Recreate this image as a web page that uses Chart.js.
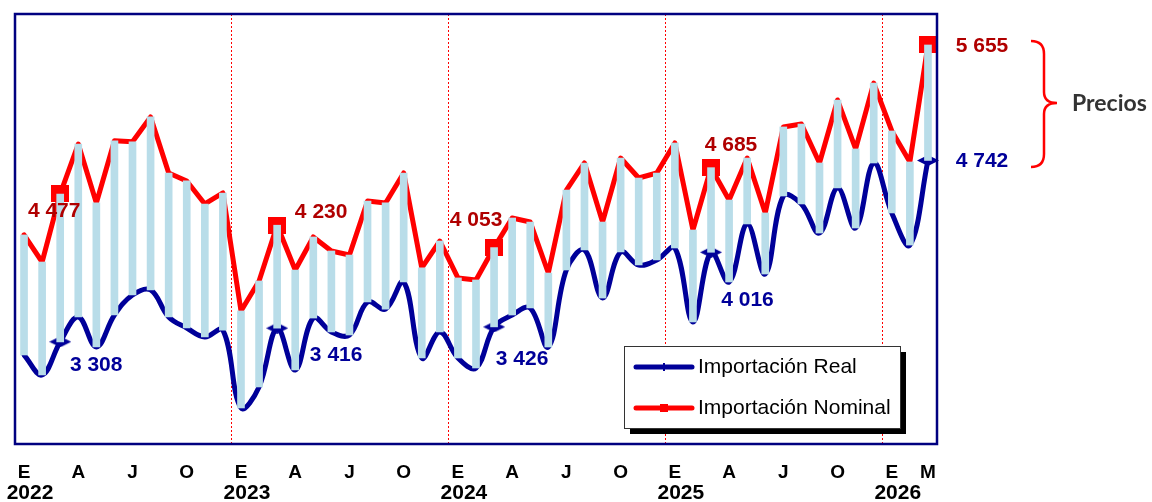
<!DOCTYPE html>
<html>
<head>
<meta charset="utf-8">
<script src="https://cdn.jsdelivr.net/npm/chart.js@4/dist/chart.umd.min.js"></script>
<style>
  html, body { margin: 0; padding: 0; background: #ffffff; }
  #wrap { width: 1152px; height: 502px; position: relative; }
</style>
</head>
<body>
<div id="wrap"><canvas id="c" width="1152" height="502"></canvas></div>
<script>
// ---- Data ----
const tickLabels = [
  'E','','','A','','','J','','','O','','',
  'E','','','A','','','J','','','O','','',
  'E','','','A','','','J','','','O','','',
  'E','','','A','','','J','','','O','','',
  'E','','M'
];
const yearLabels = ['2022','2023','2024','2025','2026'];

const importNominal = [
  4153, 3939, 4477, 4872, 4406, 4898, 4890, 5086, 4643, 4580, 4398, 4485,
  3552, 3789, 4230, 3876, 4137, 4026, 3994, 4421, 4406, 4643, 3892, 4105,
  3813, 3797, 4053, 4287, 4255, 3852, 4508, 4722, 4255, 4761, 4603, 4643,
  4880, 4192, 4685, 4429, 4761, 4327, 5007, 5030, 4722, 5220, 4833, 5354,
  4975, 4730, 5655
];
const importReal = [
  3204, 3046, 3308, 3504, 3267, 3520, 3678, 3718, 3504, 3417, 3346, 3401,
  2785, 2951, 3416, 3085, 3496, 3386, 3362, 3623, 3567, 3781, 3180, 3386,
  3180, 3101, 3426, 3520, 3575, 3267, 3876, 4034, 3654, 4018, 3915, 3955,
  4050, 3465, 4016, 3781, 4240, 3844, 4461, 4398, 4168, 4524, 4208, 4722,
  4327, 4073, 4742
];
const markedIndexes = [2, 14, 26, 38, 50];

// ---- Styling / layout (not data) ----
const NAVY = '#000099';
const RED = '#FF0000';
const DARKRED = '#B00000';
const BARBLUE = '#B9DDE9';

// label offsets relative to the marked points (pixels)
const nominalLabelOffsets = [[-6, 17], [44, -13], [-18, -27], [20, -22], [54, 1]];
const realLabelOffsets   = [[36, 23], [59, 27], [28, 32], [36.5, 48], [54, 1]];

function fmt(v) {
  const s = String(Math.round(v));
  return s.replace(/\B(?=(\d{3})+(?!\d))/g, ' ');
}

// custom marker images
function makeCanvas(w, h, draw) {
  const c = document.createElement('canvas');
  c.width = w; c.height = h;
  draw(c.getContext('2d'), w, h);
  return c;
}
const redSquare = makeCanvas(18, 17, (g, w, h) => { g.fillStyle = RED; g.fillRect(0, 0, w, h); });
const blueDiamond = makeCanvas(22, 11, (g, w, h) => {
  g.fillStyle = NAVY; g.beginPath();
  g.moveTo(0, h / 2); g.lineTo(w / 2, 0); g.lineTo(w, h / 2); g.lineTo(w / 2, h); g.closePath(); g.fill();
});

const barData = importReal.map((r, i) => [r, importNominal[i]]);

const framePlugin = {
  id: 'frame',
  afterDatasetsDraw(chart) {
    const { ctx, chartArea: a } = chart;
    ctx.save();
    ctx.strokeStyle = '#000080';
    ctx.lineWidth = 2.5;
    ctx.strokeRect(a.left, a.top, a.right - a.left, a.bottom - a.top);
    ctx.restore();
  }
};

const valueLabelPlugin = {
  id: 'valueLabels',
  afterDatasetsDraw(chart) {
    const { ctx } = chart;
    const metaNom = chart.getDatasetMeta(1);
    const metaReal = chart.getDatasetMeta(0);
    ctx.save();
    ctx.font = 'bold 21px "Liberation Sans", Arial, sans-serif';
    ctx.textAlign = 'center';
    ctx.textBaseline = 'middle';
    markedIndexes.forEach((idx, k) => {
      const pn = metaNom.data[idx];
      ctx.fillStyle = DARKRED;
      ctx.fillText(fmt(importNominal[idx]), pn.x + nominalLabelOffsets[k][0], pn.y + nominalLabelOffsets[k][1]);
      const pr = metaReal.data[idx];
      ctx.fillStyle = NAVY;
      ctx.fillText(fmt(importReal[idx]), pr.x + realLabelOffsets[k][0], pr.y + realLabelOffsets[k][1]);
    });
    ctx.restore();
  }
};

const extrasPlugin = {
  id: 'extras',
  afterDraw(chart) {
    const { ctx } = chart;
    const xs = chart.scales.x;
    ctx.save();
    // year labels under each January
    ctx.font = 'bold 21px "Liberation Sans", Arial, sans-serif';
    ctx.fillStyle = '#000000';
    ctx.textAlign = 'center';
    ctx.textBaseline = 'middle';
    yearLabels.forEach((y, k) => {
      const x = xs.getPixelForValue(k * 12);
      ctx.fillText(y, x + 6, 493);
    });

    // bracket "Precios"
    ctx.strokeStyle = RED;
    ctx.lineWidth = 2.5;
    ctx.beginPath();
    ctx.moveTo(1031, 41);
    ctx.quadraticCurveTo(1044, 41, 1044, 54);
    ctx.lineTo(1044, 92);
    ctx.quadraticCurveTo(1044, 103, 1057, 103);
    ctx.quadraticCurveTo(1044, 103, 1044, 114);
    ctx.lineTo(1044, 154);
    ctx.quadraticCurveTo(1044, 167, 1031, 167);
    ctx.stroke();
    ctx.font = 'bold 23px Lato, "Open Sans", sans-serif';
    ctx.fillStyle = '#333333';
    ctx.textAlign = 'left';
    ctx.fillText('Precios', 1072, 104);

    // legend box with shadow
    const lx = 624, ly = 346, lw = 276, lh = 82;
    ctx.fillStyle = '#000000';
    ctx.fillRect(lx + 6, ly + 6, lw, lh);
    ctx.fillStyle = '#FFFFFF';
    ctx.fillRect(lx, ly, lw, lh);
    ctx.strokeStyle = '#333333';
    ctx.lineWidth = 1;
    ctx.strokeRect(lx + 0.5, ly + 0.5, lw, lh);

    const items = [
      { label: chart.data.datasets[0].label, color: NAVY, y: 367, marker: 'tick' },
      { label: chart.data.datasets[1].label, color: RED, y: 408, marker: 'square' }
    ];
    items.forEach(it => {
      ctx.strokeStyle = it.color;
      ctx.lineWidth = 5;
      ctx.lineCap = 'round';
      ctx.beginPath();
      ctx.moveTo(636, it.y);
      ctx.lineTo(692, it.y);
      ctx.stroke();
      ctx.fillStyle = it.color;
      if (it.marker === 'square') ctx.fillRect(660, it.y - 4, 8, 8);
      else ctx.fillRect(663, it.y - 4, 2, 8);
      ctx.fillStyle = '#000000';
      ctx.font = '21px "Liberation Sans", Arial, sans-serif';
      ctx.textAlign = 'left';
      ctx.textBaseline = 'middle';
      ctx.fillText(it.label, 698, it.y);
    });
    ctx.restore();
  }
};

new Chart(document.getElementById('c'), {
  data: {
    labels: tickLabels,
    datasets: [
      {
        type: 'line',
        label: 'Importación Real',
        data: importReal,
        borderColor: NAVY,
        borderWidth: 5,
        tension: 0.38,
        borderJoinStyle: 'round',
        borderCapStyle: 'round',
        fill: false,
        order: 2,
        pointStyle: (c) => blueDiamond,
        pointRadius: (c) => markedIndexes.includes(c.dataIndex) ? 6 : 0,
        pointHoverRadius: 0
      },
      {
        type: 'line',
        label: 'Importación Nominal',
        data: importNominal,
        borderColor: RED,
        borderWidth: 5,
        tension: 0,
        borderJoinStyle: 'round',
        borderCapStyle: 'round',
        fill: false,
        order: 1,
        pointStyle: (c) => redSquare,
        pointRadius: (c) => markedIndexes.includes(c.dataIndex) ? 6 : 0,
        pointHoverRadius: 0
      },
      {
        type: 'bar',
        label: 'Precios',
        data: barData,
        backgroundColor: BARBLUE,
        borderWidth: 0,
        barThickness: 7,
        order: 0
      }
    ]
  },
  options: {
    responsive: false,
    animation: false,
    devicePixelRatio: 1,
    layout: { padding: { left: 15, top: 14, right: 215, bottom: 0 } },
    plugins: { legend: { display: false }, tooltip: { enabled: false } },
    scales: {
      x: {
        type: 'category',
        offset: true,
        grid: {
          display: true,
          offset: true,
          drawTicks: false,
          drawOnChartArea: true,
          lineWidth: 1,
          color: (c) => (c.index > 0 && c.index % 12 === 0) ? RED : 'rgba(0,0,0,0)'
        },
        border: { display: false, dash: [2, 2] },
        ticks: {
          autoSkip: false,
          maxRotation: 0,
          minRotation: 0,
          padding: 17,
          color: '#000000',
          font: { family: '"Liberation Sans", Arial, sans-serif', size: 19, weight: 'bold' }
        },
        afterFit: (s) => { s.height = 58; }
      },
      y: {
        display: false,
        min: 2500,
        max: 5900
      }
    }
  },
  plugins: [framePlugin, valueLabelPlugin, extrasPlugin]
});
</script>
</body>
</html>
